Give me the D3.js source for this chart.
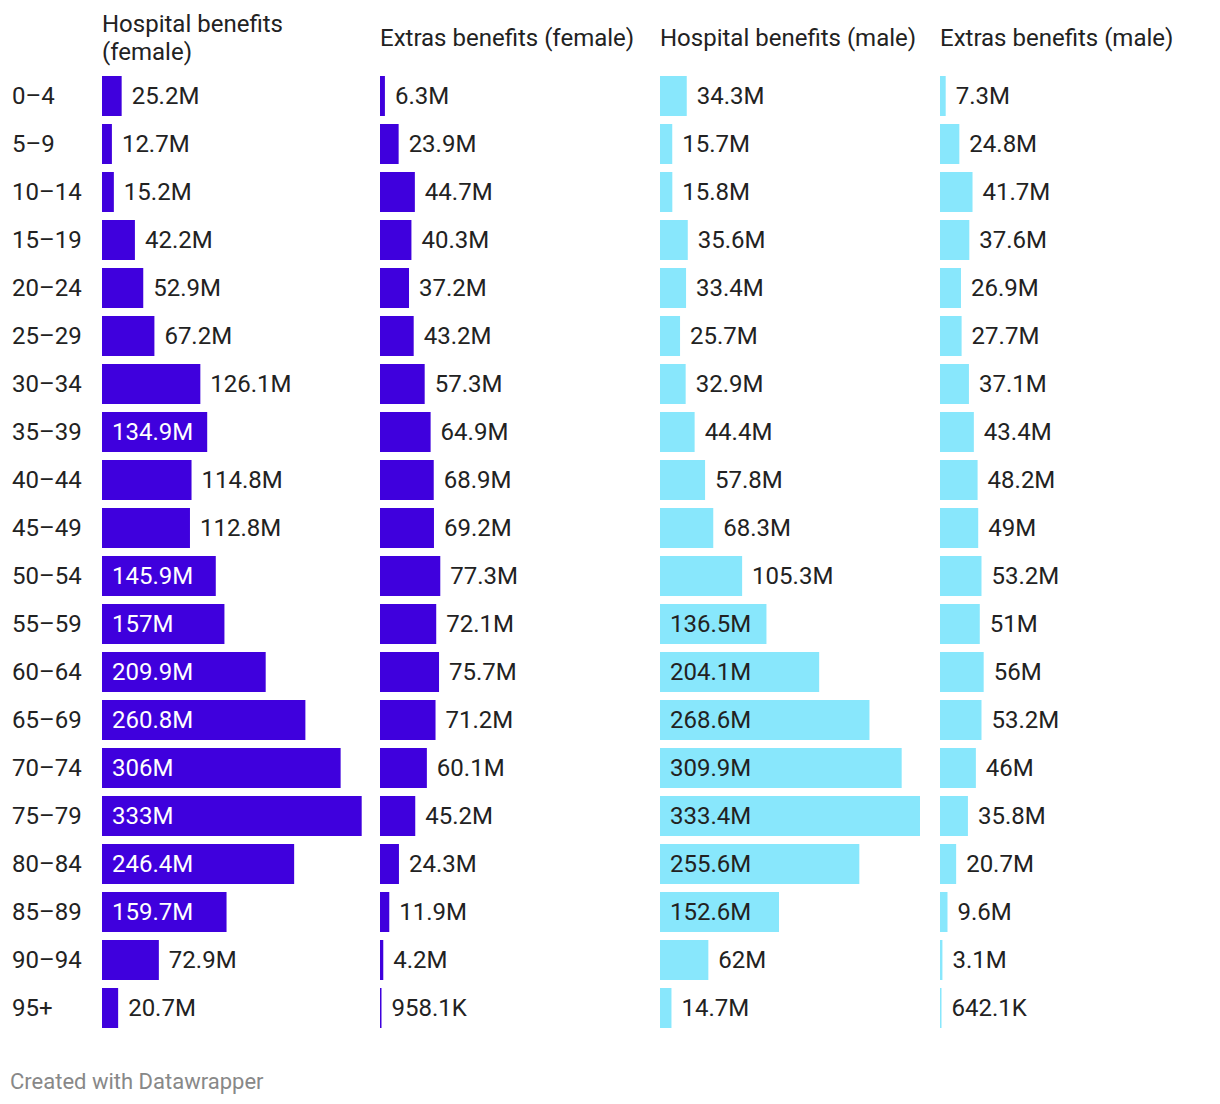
<!DOCTYPE html>
<html><head><meta charset="utf-8">
<script src="https://cdn.jsdelivr.net/npm/d3@7"></script>
<style>
body{margin:0;background:#fff;font-family:Roboto,sans-serif;}
</style></head>
<body><svg id="chart" width="1220" height="1104"></svg>
<script>
const ageGroups = ["0–4","5–9","10–14","15–19","20–24","25–29","30–34","35–39","40–44","45–49","50–54","55–59","60–64","65–69","70–74","75–79","80–84","85–89","90–94","95+"];
const columnTitles = ["Hospital benefits (female)","Extras benefits (female)","Hospital benefits (male)","Extras benefits (male)"];
const hospitalFemale = [25.2,12.7,15.2,42.2,52.9,67.2,126.1,134.9,114.8,112.8,145.9,157,209.9,260.8,306,333,246.4,159.7,72.9,20.7];
const extrasFemale = [6.3,23.9,44.7,40.3,37.2,43.2,57.3,64.9,68.9,69.2,77.3,72.1,75.7,71.2,60.1,45.2,24.3,11.9,4.2,0.9581];
const hospitalMale = [34.3,15.7,15.8,35.6,33.4,25.7,32.9,44.4,57.8,68.3,105.3,136.5,204.1,268.6,309.9,333.4,255.6,152.6,62,14.7];
const extrasMale = [7.3,24.8,41.7,37.6,26.9,27.7,37.1,43.4,48.2,49,53.2,51,56,53.2,46,35.8,20.7,9.6,3.1,0.6421];
const series = [hospitalFemale, extrasFemale, hospitalMale, extrasMale];
const colors = ["#3f00dd","#3f00dd","#88e7fc","#88e7fc"];
const insideText = ["#ffffff","#ffffff","#222222","#222222"];

function fmt(v){
  if (v < 1) return d3.format(".1f")(v*1000).replace(/\.0$/,"") + "K";
  return d3.format(".1f")(v).replace(/\.0$/,"") + "M";
}

const svg = d3.select("#chart");
const colX = d3.scaleOrdinal().domain(d3.range(4)).range([102,380,660,940]);
const x = d3.scaleLinear().domain([0, d3.max(series.flat())]).range([0, 260]);
const y = d3.scaleBand().domain(ageGroups).range([72, 1032]).paddingInner(0.1667).paddingOuter(0.0833);
const fs = 24;

// row labels
svg.append("g").selectAll("text").data(ageGroups).join("text")
  .attr("x", 12).attr("y", d => y(d) + y.bandwidth()/2)
  .attr("dy","0.35em").attr("font-size", fs).attr("fill","#222")
  .text(d => d);

// headers
const headerLines = [["Hospital benefits","(female)"],["Extras benefits (female)"],["Hospital benefits (male)"],["Extras benefits (male)"]];
headerLines.forEach((lines, i) => {
  const t = svg.append("text").attr("x", colX(i)).attr("font-size", fs).attr("fill","#222");
  const startY = lines.length === 2 ? 32 : 46;
  lines.forEach((l, j) => t.append("tspan").attr("x", colX(i)).attr("y", startY + j*28).text(l));
});

// measurement
const meas = svg.append("text").attr("font-size", fs).attr("visibility","hidden");
function textW(s){ meas.text(s); return meas.node().getComputedTextLength(); }

series.forEach((vals, i) => {
  const g = svg.append("g").attr("transform", `translate(${colX(i)},0)`);
  vals.forEach((v, k) => {
    const w = Math.max(x(v), 1.5);
    const yy = y(ageGroups[k]);
    g.append("rect").attr("x",0).attr("y",yy).attr("width",w).attr("height",y.bandwidth()).attr("fill",colors[i]);
    const label = fmt(v);
    const tw = textW(label);
    const inside = w > tw + 20;
    g.append("text")
      .attr("x", inside ? 10 : w + 10)
      .attr("y", yy + y.bandwidth()/2).attr("dy","0.35em")
      .attr("font-size", fs)
      .attr("fill", inside ? insideText[i] : "#222")
      .text(label);
  });
});
meas.remove();

svg.append("text").attr("x",10).attr("y",1081).attr("dy","0.35em")
  .attr("font-size",22).attr("fill","#888").text("Created with Datawrapper");
</script></body></html>
